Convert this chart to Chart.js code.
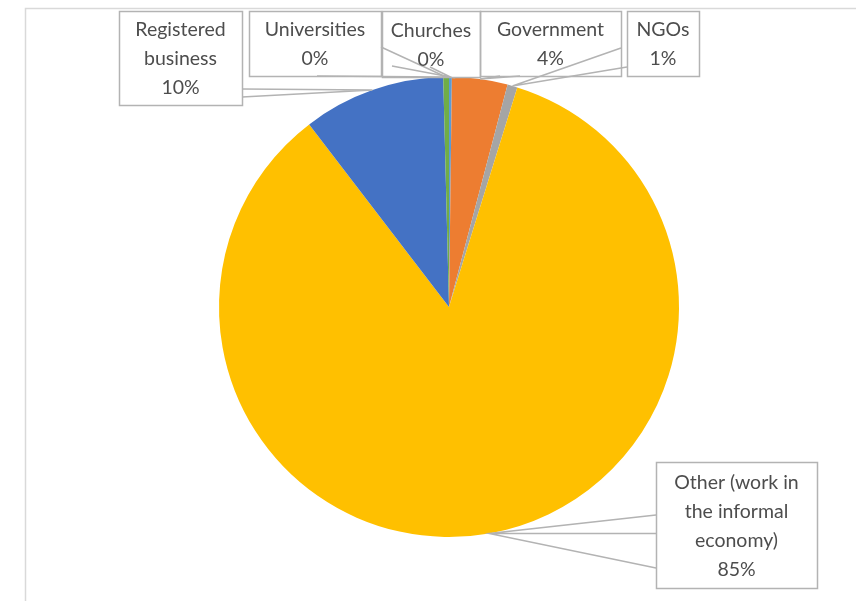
<!DOCTYPE html>
<html>
<head>
<meta charset="utf-8">
<script src="https://cdn.jsdelivr.net/npm/chart.js@4/dist/chart.umd.min.js"></script>
<style>
  body { margin: 0; background: #ffffff; }
  canvas { display: block; }
</style>
</head>
<body>
<canvas id="sectorChart" width="856" height="601"></canvas>
<script>
// Employment by sector, clockwise from 12 o'clock
const categories = ["Churches", "Government", "NGOs", "Other (work in the informal economy)", "Registered business", "Universities"];
const shares = [0.2, 3.9, 0.7, 84.8, 10.0, 0.4];
const sliceColors = ["#5B9BD5", "#ED7D31", "#A5A5A5", "#FFC000", "#4472C4", "#70AD47"];
const labelLines = [["Churches"], ["Government"], ["NGOs"], ["Other (work in", "the informal", "economy)"], ["Registered", "business"], ["Universities"]];

// callout boxes [left, top, right, bottom], the two points where the pointer leaves the box,
// and an optional straight leader from the slice back to the box edge
const callouts = [
  { box: [382, 11, 480, 77], base: [[392, 66], [430, 67]] },
  { box: [480, 11, 621, 76], base: [[500, 76], [520, 76]] },
  { box: [627, 11, 699, 76], base: [[621, 48], [627, 67]] },
  { box: [656, 462, 817, 588], base: [[656, 515], [656, 568]], leaderX: 656 },
  { box: [119, 11, 242, 105], base: [[242, 89], [242, 97]] },
  { box: [249, 11, 381, 76], base: [[381, 47], [317, 76]] },
];

const total = shares.reduce((a, b) => a + b, 0);
const pct = (v) => Math.round((v / total) * 100) + "%";

const frame = {
  id: "frame",
  beforeDraw(chart) {
    const ctx = chart.ctx;
    ctx.save();
    ctx.strokeStyle = "#d9d9d9";
    ctx.lineWidth = 1.5;
    ctx.strokeRect(25.5, 8.5, 900, 700);
    ctx.restore();
  },
};

const calloutLabels = {
  id: "calloutLabels",
  afterDraw(chart) {
    const ctx = chart.ctx;
    const arcs = chart.getDatasetMeta(0).data;
    ctx.save();

    // white box backgrounds first
    ctx.fillStyle = "#ffffff";
    callouts.forEach((c) => {
      const [l, t, r, b] = c.box;
      ctx.fillRect(l, t, r - l, b - t);
    });

    ctx.strokeStyle = "#b3b3b3";
    ctx.lineWidth = 1.5;
    callouts.forEach((c, i) => {
      const arc = arcs[i];
      const mid = (arc.startAngle + arc.endAngle) / 2;
      const tipX = arc.x + Math.cos(mid) * arc.outerRadius;
      const tipY = arc.y + Math.sin(mid) * arc.outerRadius;
      const [l, t, r, b] = c.box;
      ctx.strokeRect(l + 0.5, t + 0.5, r - l, b - t);
      ctx.beginPath();
      ctx.moveTo(c.base[0][0], c.base[0][1]);
      ctx.lineTo(tipX, tipY);
      ctx.lineTo(c.base[1][0], c.base[1][1]);
      if (c.leaderX !== undefined) {
        ctx.moveTo(tipX, tipY);
        ctx.lineTo(c.leaderX, tipY);
      }
      ctx.stroke();
    });

    ctx.fillStyle = "#4d4d4d";
    ctx.font = "19.5px Lato";
    ctx.textAlign = "center";
    ctx.textBaseline = "middle";
    const lineH = 29;
    callouts.forEach((c, i) => {
      const [l, t, r, b] = c.box;
      const lines = labelLines[i].concat(pct(shares[i]));
      const cx = (l + r) / 2;
      const cy = (t + b) / 2 + 1;
      lines.forEach((txt, k) => {
        ctx.fillText(txt, cx, cy + (k - (lines.length - 1) / 2) * lineH);
      });
    });
    ctx.restore();
  },
};

new Chart(document.getElementById("sectorChart"), {
  type: "pie",
  data: {
    labels: categories,
    datasets: [
      {
        data: shares,
        backgroundColor: sliceColors,
        borderWidth: 0,
      },
    ],
  },
  options: {
    responsive: false,
    animation: false,
    layout: { padding: { top: 77, bottom: 64, left: 42, right: 0 } },
    plugins: {
      legend: { display: false },
      tooltip: { enabled: false },
    },
  },
  plugins: [frame, calloutLabels],
});
</script>
</body>
</html>
